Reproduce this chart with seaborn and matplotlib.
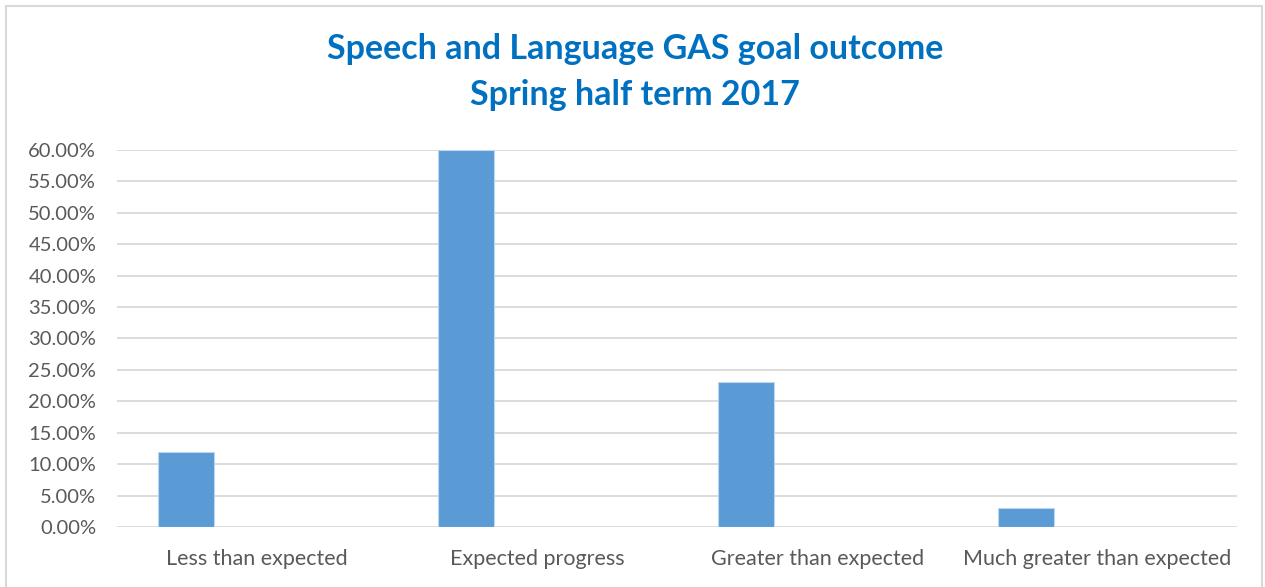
import matplotlib
matplotlib.use("Agg")
import matplotlib.pyplot as plt
import matplotlib.ticker as mticker
import pandas as pd
import seaborn as sns

# data
categories = ["Less than expected", "Expected progress",
              "Greater than expected", "Much greater than expected"]
values = [0.12, 0.60, 0.23, 0.03]
title_lines = ["Speech and Language GAS goal outcome", "Spring half term 2017"]

BAR = "#5B9BD5"
GRID = "#D9D9D9"
TXT = "#595959"
TITLE = "#0070C0"

sns.set_theme(style="white")
plt.rcParams["font.family"] = ["Lato", "DejaVu Sans"]

df = pd.DataFrame({"category": categories, "value": values})

fig = plt.figure(figsize=(12.65, 5.87), dpi=100)
ax = fig.add_axes([0.0925, 0.1022, 0.978 - 0.0925, 0.7445 - 0.1022])

sns.barplot(data=df, x="category", y="value", color=BAR, width=0.2,
            saturation=1, edgecolor="#BDD7EE", linewidth=0.8, ax=ax, zorder=3)

# Excel-style: bar sits left of the category centre
for p in ax.patches:
    p.set_x(p.get_x() - 0.254)

ax.set_xlim(-0.5, 3.5)
ax.set_ylim(0, 0.6)
ax.yaxis.set_major_locator(mticker.MultipleLocator(0.05))
ax.yaxis.set_major_formatter(mticker.FuncFormatter(lambda v, _: f"{v * 100:.2f}%"))
ax.grid(axis="y", color=GRID, linewidth=1.3, zorder=0)
ax.set_axisbelow(True)
for s in ax.spines.values():
    s.set_visible(False)
ax.set_xlabel("")
ax.set_ylabel("")
ax.tick_params(axis="both", length=0, labelcolor=TXT)
ax.tick_params(axis="y", pad=15, labelsize=14.5)
ax.tick_params(axis="x", pad=16, labelsize=15.5)

fig.text(0.502, 0.917, title_lines[0], ha="center", va="center",
         fontsize=24.5, fontweight="bold", color=TITLE)
fig.text(0.502, 0.839, title_lines[1], ha="center", va="center",
         fontsize=24.5, fontweight="bold", color=TITLE)

# chart frame
fig.patches.append(plt.Rectangle((0.005, -0.01), 0.993, 1.0, transform=fig.transFigure,
                                 fill=False, edgecolor="#D9D9D9", linewidth=1.5))

fig.savefig("out.png", dpi=100, facecolor="white")
